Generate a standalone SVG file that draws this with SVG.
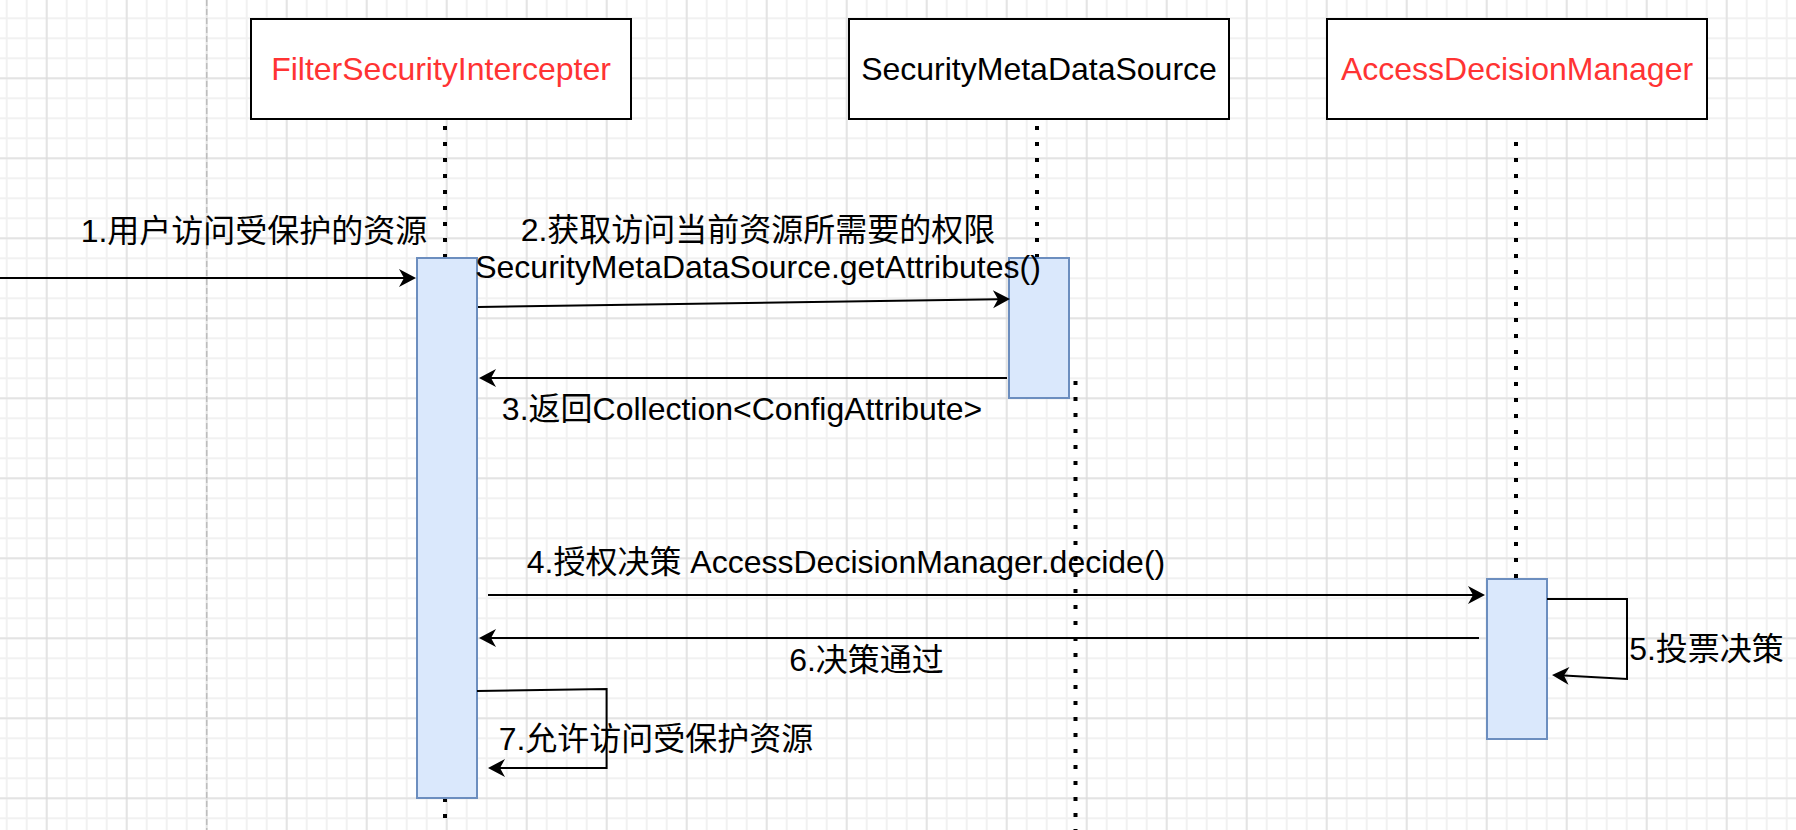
<svg xmlns="http://www.w3.org/2000/svg" width="1796" height="830" viewBox="0 0 1796 830">
  <defs>
    <pattern id="gridMinor" patternUnits="userSpaceOnUse" x="-3.3" y="8.3" width="20" height="20">
      <path d="M10,0 V20 M0,10 H20" stroke="#f1f1f1" stroke-width="2" fill="none"/>
    </pattern>
    <pattern id="gridMajor" patternUnits="userSpaceOnUse" x="6.7" y="38.3" width="80" height="80">
      <path d="M40,0 V80 M0,40 H80" stroke="#d6d6d6" stroke-width="1" fill="none"/>
    </pattern>
    <marker id="arrow" markerUnits="userSpaceOnUse" orient="auto" viewBox="-6 -10 19 20" refX="0" refY="0" markerWidth="19" markerHeight="20">
      <path d="M12,0 L-5,-9 L0,0 L-5,9 Z" fill="#000"/>
    </marker>
    <style>
      .box { fill: #ffffff; stroke: #000000; stroke-width: 2; }
      .act { fill: #dae8fc; stroke: #6c8ebf; stroke-width: 2; }
      .life { stroke: #000000; stroke-width: 4; stroke-dasharray: 4 12; fill: none; }
      .msg { stroke: #000000; stroke-width: 2; fill: none; marker-end: url(#arrow); }
      .t { font-family: "Liberation Sans", "Noto Sans CJK SC", sans-serif; font-size: 32px; fill: #000000; text-anchor: middle; }
      .red { fill: #ff3333; }
    </style>
  </defs>

  <rect x="0" y="0" width="1796" height="830" fill="#ffffff"/>
  <rect x="0" y="0" width="1796" height="830" fill="url(#gridMinor)"/>
  <rect x="0" y="0" width="1796" height="830" fill="url(#gridMajor)"/>
  <line x1="206.7" y1="0" x2="206.7" y2="830" stroke="#bdbdbd" stroke-width="1.5" stroke-dasharray="6 3"/>

  <g id="node-filter">
    <line class="life" x1="445" y1="126" x2="445" y2="830"/>
    <rect class="box" x="251" y="19" width="380" height="100"/>
    <text class="t red" x="441" y="80">FilterSecurityIntercepter</text>
  </g>

  <g id="node-metasource">
    <line class="life" x1="1037" y1="126" x2="1037" y2="258"/>
    <line class="life" x1="1075.5" y1="381" x2="1075.5" y2="830"/>
    <rect class="box" x="849" y="19" width="380" height="100"/>
    <text class="t" x="1039" y="80">SecurityMetaDataSource</text>
  </g>

  <g id="node-adm">
    <line class="life" x1="1516" y1="142" x2="1516" y2="579"/>
    <rect class="box" x="1327" y="19" width="380" height="100"/>
    <text class="t red" x="1517" y="80">AccessDecisionManager</text>
  </g>

  <g id="node-act-filter">
    <rect class="act" x="417" y="258" width="60" height="540"/>
  </g>
  <g id="node-act-metasource">
    <rect class="act" x="1009" y="258" width="60" height="140"/>
  </g>
  <g id="node-act-adm">
    <rect class="act" x="1487" y="579" width="60" height="160"/>
  </g>

  <g id="connectors">
    <line class="msg" x1="0" y1="278" x2="404" y2="278"/>
    <line class="msg" x1="478" y1="307" x2="998" y2="299.2"/>
    <line class="msg" x1="1007" y1="378" x2="491" y2="378"/>
    <line class="msg" x1="488" y1="595" x2="1473" y2="595"/>
    <path class="msg" d="M1547,599 L1627,599 L1627,679 L1564,675.6"/>
    <line class="msg" x1="1479" y1="638" x2="491" y2="638"/>
    <path class="msg" d="M477,691 L606.6,689 L606.6,768 L500,768"/>
  </g>

  <g id="labels">
    <text class="t" x="254" y="242">1.用户访问受保护的资源</text>
    <text class="t" x="758" y="241">2.获取访问当前资源所需要的权限</text>
    <text class="t" x="758" y="278">SecurityMetaDataSource.getAttributes()</text>
    <text class="t" x="742" y="420">3.返回Collection&lt;ConfigAttribute&gt;</text>
    <text class="t" x="846" y="573">4.授权决策 AccessDecisionManager.decide()</text>
    <text class="t" x="1706.5" y="660">5.投票决策</text>
    <text class="t" x="866.5" y="671">6.决策通过</text>
    <text class="t" x="656" y="750">7.允许访问受保护资源</text>
  </g>
</svg>
